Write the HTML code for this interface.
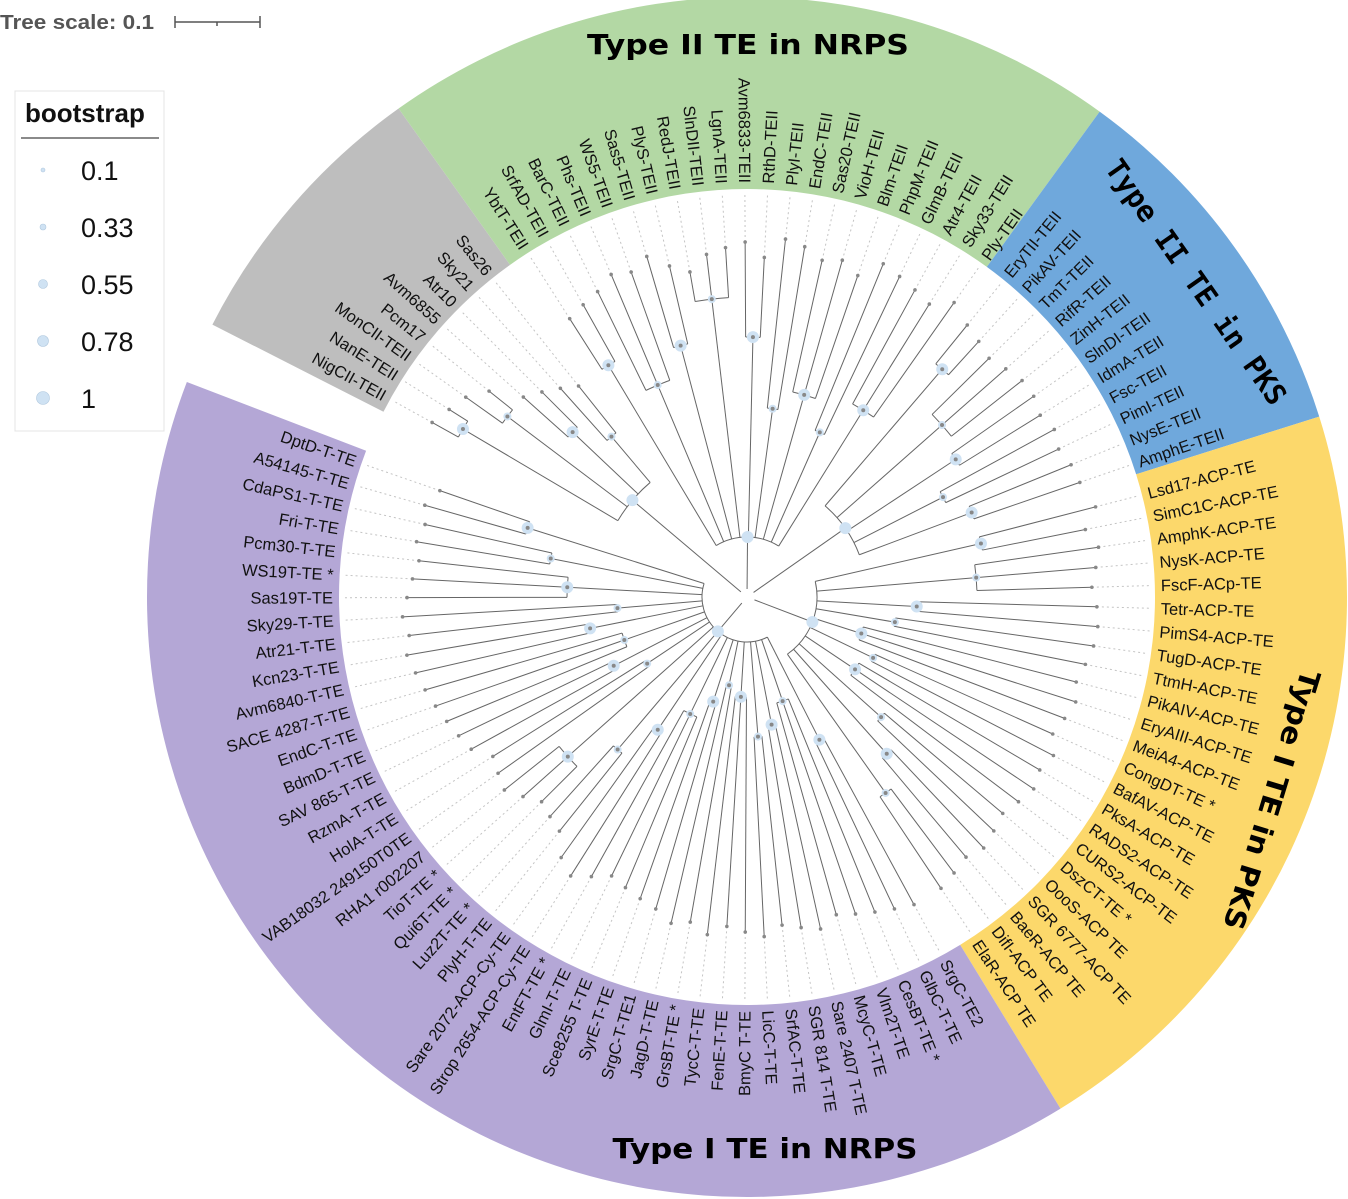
<!DOCTYPE html>
<html><head><meta charset="utf-8"><style>
html,body{margin:0;padding:0;background:#fff;width:1348px;height:1199px;overflow:hidden}
svg{display:block;font-family:"Liberation Sans",Arial,sans-serif}
</style></head><body>
<svg id="chart" width="1348" height="1199" viewBox="0 0 1348 1199" xmlns="http://www.w3.org/2000/svg">
<g id="sectors"></g>
<g id="tree"></g>
<g id="labels"></g>
<g>
<text x="0" y="29" font-size="20" font-weight="bold" fill="#555" textLength="154" lengthAdjust="spacingAndGlyphs">Tree scale: 0.1</text>
<line x1="175" y1="22" x2="260" y2="22" stroke="#555" stroke-width="1.5"/>
<line x1="175" y1="16" x2="175" y2="28" stroke="#555" stroke-width="1.5"/>
<line x1="260" y1="16" x2="260" y2="28" stroke="#555" stroke-width="1.5"/>
<line x1="217" y1="22" x2="217" y2="26" stroke="#555" stroke-width="1.5"/>
</g>
<g>
<rect x="15" y="91" width="149" height="340" fill="#fff" stroke="#e4e4e4"/>
<text x="25" y="122" font-size="26" font-weight="bold" fill="#111">bootstrap</text>
<line x1="21" y1="138" x2="159" y2="138" stroke="#444" stroke-width="1.2"/>
<g id="legend"></g>
</g>
<g>
<text x="748" y="54" text-anchor="middle" font-family="'DejaVu Sans',sans-serif" font-weight="bold" font-size="28" textLength="322" lengthAdjust="spacingAndGlyphs">Type II TE in NRPS</text>
<text x="765" y="1158" text-anchor="middle" font-family="'DejaVu Sans',sans-serif" font-weight="bold" font-size="28" textLength="305" lengthAdjust="spacingAndGlyphs">Type I TE in NRPS</text>
<text transform="translate(1196,282) rotate(55)" text-anchor="middle" dy="10" font-family="'DejaVu Sans Mono',monospace" font-weight="bold" font-size="29" textLength="292" lengthAdjust="spacingAndGlyphs">Type II TE in PKS</text>
<text transform="translate(1272,800) rotate(107)" text-anchor="middle" dy="10" font-family="'DejaVu Sans',sans-serif" font-weight="bold" font-size="28" textLength="270" lengthAdjust="spacingAndGlyphs">Type I TE in PKS</text>
</g>
</svg>
<script>
const CX=747, CY=597, R_IN=408, R_OUT=600, R_LABEL=414;
const grayLeaves=["NigCII-TEII","NanE-TEII","MonCII-TEII","Pcm17","Avm6855","Atr10","Sky21","Sas26"];
const grayTips=[360,352,345,330,300,290,280,270];
const graySubs=[2,2,2,2];
const graySubR=[330,300,240,210];
const greenLeaves=["YbtT-TEII","SrfAD-TEII","BarC-TEII","Phs-TEII","WS5-TEII","Sas5-TEII","PlyS-TEII","RedJ-TEII","SlnDII-TEII","LgnA-TEII","Avm6833-TEII","RthD-TEII","PlyI-TEII","EndC-TEII","Sas20-TEII","VioH-TEII","Blm-TEII","PhpM-TEII","GlmB-TEII","Atr4-TEII","Sky33-TEII","Ply-TEII"];
const greenTips=[330,335,340,350,345,355,340,330,345,350,355,340,360,355,345,350,340,360,355,350,345,360];
const greenSubs=[2,3,2,3,2,2,3,2,3];
const greenSubR=[270,230,260,300,260,190,210,180,220];
const blueLeaves=["EryTII-TEII","PikAV-TEII","TmT-TEII","RifR-TEII","ZinH-TEII","SlnDI-TEII","IdmA-TEII","Fsc-TEII","PimI-TEII","NysE-TEII","AmphE-TEII"];
const blueTips=[350,345,340,345,350,350,345,350,345,350,352];
const blueSubs=[2,3,2,2,2];
const blueSubR=[300,260,250,220,240];
const yellowLeaves=["Lsd17-ACP-TE","SimC1C-ACP-TE","AmphK-ACP-TE","NysK-ACP-TE","FscF-ACp-TE","Tetr-ACP-TE","PimS4-ACP-TE","TugD-ACP-TE","TtmH-ACP-TE","PikAIV-ACP-TE","EryAIII-ACP-TE","MeiA4-ACP-TE","CongDT-TE *","BafAV-ACP-TE","PksA-ACP-TE","RADS2-ACP-TE","CURS2-ACP-TE","DszCT-TE *","OooS-ACP TE","SGR 6777-ACP TE","BaeR-ACP TE","DifI-ACP TE","ElaR-ACP TE"];
const yellowTips=[360,345,355,350,345,350,352,350,345,340,345,340,335,345,340,345,340,335,340,345,340,345,350];
const yellowSubs=[2,3,2,2,3,2,3,2,2,2];
const yellowSubR=[240,230,170,150,120,140,130,180,210,240];
const purpleLeaves=["SrgC-TE2","GlbC-T-TE","CesBT-TE *","Vlm2T-TE","McyC-T-TE","Sare 2407 T-TE","SGR 814 T-TE","SrfAC-T-TE","LicC-T-TE","BmyC T-TE","FenE-T-TE","TycC-T-TE","GrsBT-TE *","JagD-T-TE","SrgC-T-TE1","SyrE-T-TE","Sce8255 T-TE","GlmI-T-TE","EntFT-TE *","Strop 2654-ACP-Cy-TE","Sare 2072-ACP-Cy-TE","PlyH-T-TE","Luz2T-TE *","Qui6T-TE *","TioT-TE *","RHA1 r002207","VAB18032 249150T0TE","HolA-T-TE","RzmA-T-TE","SAV 865-T-TE","BdmD-T-TE","EndC-T-TE","SACE 4287-T-TE","Avm6840-T-TE","Kcn23-T-TE","Atr21-T-TE","Sky29-T-TE","Sas19T-TE","WS19T-TE *","Pcm30-T-TE","Fri-T-TE","CdaPS1-T-TE","A54145-T-TE","DptD-T-TE"];
const purpleTips=[350,345,340,335,330,340,335,330,340,335,330,340,330,335,325,320,315,310,320,330,320,300,295,290,300,310,305,300,315,320,325,330,335,340,345,340,345,340,335,330,335,330,335,325];
const purpleSubs=[2,3,2,2,3,2,2,3,2,2,3,2,2,3,2,2,3,2,2];
const purpleSubR=[160,110,130,140,100,90,110,130,160,200,240,120,150,130,160,130,180,200,230];
const groups=[
 {id:"gray",leaves:grayLeaves,tips:grayTips,subs:graySubs,subR:graySubR,start:299,step:3.2,cladeR:150,fill:"#bebebe",a0:297,a1:324.5},
 {id:"green",leaves:greenLeaves,tips:greenTips,subs:greenSubs,subR:greenSubR,start:327.5,step:3.22,cladeR:60,fill:"#b3d8a4",a0:324.5,a1:396},
 {id:"blue",leaves:blueLeaves,tips:blueTips,subs:blueSubs,subR:blueSubR,start:39,step:3.2,cladeR:120,fill:"#6fa8dc",a0:36,a1:72.5},
 {id:"yellow",leaves:yellowLeaves,tips:yellowTips,subs:yellowSubs,subR:yellowSubR,start:75.5,step:3.22,cladeR:70,fill:"#fcd86b",a0:72.5,a1:148.5},
 {id:"purple",leaves:purpleLeaves,tips:purpleTips,subs:purpleSubs,subR:purpleSubR,start:151.5,step:3.2,cladeR:45,fill:"#b4a7d6",a0:148.5,a1:291}
];
const legendVals=["0.1","0.33","0.55","0.78","1"];
const legendSizes=[2,3,4.5,5.5,6.5];
const NS="http://www.w3.org/2000/svg";
function pt(r,a){const t=a*Math.PI/180;return [CX+r*Math.sin(t),CY-r*Math.cos(t)];}
function mk(tag,attrs,parent){const e=document.createElementNS(NS,tag);for(const k in attrs)e.setAttribute(k,attrs[k]);parent.appendChild(e);return e;}
function arcPath(r,a0,a1){const p0=pt(r,a0),p1=pt(r,a1);const large=(a1-a0)>180?1:0;return `M${p0[0]},${p0[1]} A${r},${r} 0 ${large} 1 ${p1[0]},${p1[1]}`;}
const sec=document.getElementById('sectors'),tree=document.getElementById('tree'),lab=document.getElementById('labels');
groups.forEach(g=>{
  const o0=pt(R_OUT,g.a0),o1=pt(R_OUT,g.a1),i0=pt(R_IN,g.a0),i1=pt(R_IN,g.a1);
  const s=mk('path',{d:`M${i0[0]},${i0[1]} L${o0[0]},${o0[1]} A${R_OUT},${R_OUT} 0 0 1 ${o1[0]},${o1[1]} L${i1[0]},${i1[1]} A${R_IN},${R_IN} 0 0 0 ${i0[0]},${i0[1]} Z`,fill:g.fill},sec);
  
  
  const angles=g.leaves.map((_,i)=>g.start+i*g.step);
  let idx=0;const subMids=[];
  g.subs.forEach((n,si)=>{
    const r=g.subR[si];const as=angles.slice(idx,idx+n);
    for(let k=0;k<n;k++){
      const a=as[k],tr=g.tips[idx+k];
      const p0=pt(r,a),p1=pt(tr,a),p2=pt(R_IN-4,a);
      const br=mk('line',{x1:p0[0],y1:p0[1],x2:p1[0],y2:p1[1],stroke:"#666","stroke-width":1},tree);
      
      
      mk('line',{x1:p1[0],y1:p1[1],x2:p2[0],y2:p2[1],stroke:"#c4c4c4","stroke-width":1,"stroke-dasharray":"2,3"},tree);
      mk('circle',{cx:p1[0],cy:p1[1],r:1.8,fill:"#888"},tree);
    }
    mk('path',{d:arcPath(r,as[0],as[n-1]),fill:"none",stroke:"#666","stroke-width":1},tree);
    const mid=(as[0]+as[n-1])/2;subMids.push(mid);
    const q0=pt(g.cladeR,mid),q1=pt(r,mid);
    mk('line',{x1:q0[0],y1:q0[1],x2:q1[0],y2:q1[1],stroke:"#666","stroke-width":1},tree);
    const bs=mk('circle',{cx:q1[0],cy:q1[1],r:si%2?4:6,fill:"#cfe2f3"},tree);
    
    
    mk('circle',{cx:q1[0],cy:q1[1],r:2,fill:"#888"},tree);
    idx+=n;
  });
  mk('path',{d:arcPath(g.cladeR,subMids[0],subMids[subMids.length-1]),fill:"none",stroke:"#666","stroke-width":1},tree);
  const gm=(subMids[0]+subMids[subMids.length-1])/2;const c0=pt(8,gm),c1=pt(g.cladeR,gm);
  mk('line',{x1:c0[0],y1:c0[1],x2:c1[0],y2:c1[1],stroke:"#666","stroke-width":1},tree);
  mk('circle',{cx:c1[0],cy:c1[1],r:6,fill:"#cfe2f3"},tree);
  g.leaves.forEach((name,i)=>{
    const a=angles[i];const na=((a%360)+360)%360;const p=pt(R_LABEL,a);
    const left=na>180;
    const rot=left?na+90:na-90;
    const t=mk('text',{x:0,y:0,dy:"0.35em","font-size":"16.5",fill:"#111","text-anchor":left?"end":"start",transform:`translate(${p[0]},${p[1]}) rotate(${rot})`},lab);
    t.textContent=name;
    
    
  });
});
const lg=document.getElementById('legend');
legendVals.forEach((v,i)=>{
  const y=170+i*57;
  const c=mk('circle',{cx:43,cy:y,r:legendSizes[i],fill:"#cfe2f3",stroke:"#b0c8de","stroke-width":0.6},lg);
  
  
  const t=mk('text',{x:81,y:y+10,"font-size":"27",fill:"#111"},lg);
  t.textContent=v;
  
  
});
</script>
</body></html>
